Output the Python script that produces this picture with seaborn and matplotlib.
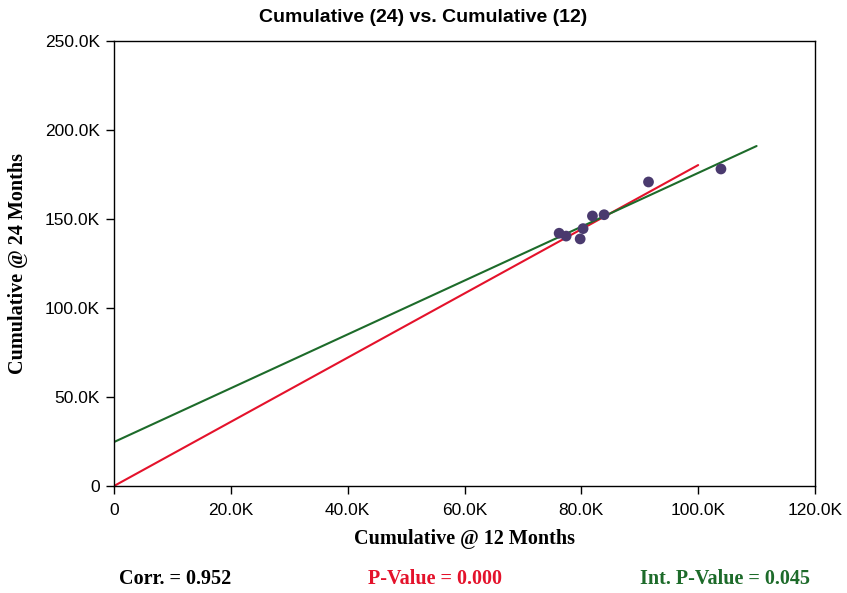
import matplotlib
matplotlib.use("Agg")
import matplotlib.pyplot as plt
import seaborn as sns
import pandas as pd
from matplotlib.ticker import FuncFormatter

cum12 = [76.2, 77.4, 79.8, 80.3, 81.9, 83.9, 91.5, 103.9]
cum24 = [142.0, 140.4, 138.8, 144.6, 151.7, 152.4, 170.8, 178.1]
red_x = [0, 100]
red_y = [0, 180.3]
green_x = [0, 110]
green_y = [24.7, 191.0]
xticks = [0, 20, 40, 60, 80, 100, 120]
yticks = [0, 50, 100, 150, 200, 250]
stats = ["Corr. = 0.952", "P-Value = 0.000", "Int. P-Value = 0.045"]

sns.set_style("white", {"xtick.bottom": True, "ytick.left": True,
                        "text.color": "black", "axes.labelcolor": "black"})
plt.rcParams['font.family'] = ['Liberation Sans', 'DejaVu Sans']

df = pd.DataFrame({"x": cum12, "y": cum24})
fig = plt.figure(figsize=(8.47, 5.93), dpi=100)
ax = fig.add_axes([114/847, 1-486/593, (815-114)/847, (486-41)/593])

sns.lineplot(x=red_x, y=red_y, ax=ax, color="#E4122B", linewidth=1.5)
sns.lineplot(x=green_x, y=green_y, ax=ax, color="#1D6B2A", linewidth=1.5)
sns.scatterplot(data=df, x="x", y="y", ax=ax, color="#4A3A6E", s=60, edgecolor="none", zorder=5)

ax.set_xlim(0, 120)
ax.set_ylim(0, 250)
ax.set_xticks(xticks)
ax.set_yticks(yticks)
fmt = FuncFormatter(lambda v, p: "0" if v == 0 else f"{v:.1f}K")
ax.xaxis.set_major_formatter(fmt)
ax.yaxis.set_major_formatter(fmt)
ax.tick_params(axis='both', direction='out', length=6, width=1, labelsize=12.5,
               colors='black', bottom=True, left=True)
ax.tick_params(axis='x', pad=6)
ax.tick_params(axis='y', pad=4)
for s in ax.spines.values():
    s.set_color('black')
    s.set_linewidth(1)

ax.set_xlabel("Cumulative @ 12 Months", fontfamily="Liberation Serif", fontweight="bold",
              fontsize=14.5, labelpad=8, color="black")
ax.set_ylabel("Cumulative @ 24 Months", fontfamily="Liberation Serif", fontweight="bold",
              fontsize=14.5, labelpad=12, color="black")
fig.text(0.5, 1-18/593, "Cumulative (24) vs. Cumulative (12)", ha="center", va="center",
         fontsize=14, fontweight="bold", color="black")

colors = ["black", "#E4122B", "#1D6B2A"]
xs = [175/847, 435/847, 725/847]
for t, c, xp in zip(stats, colors, xs):
    fig.text(xp, 1-579/593, t, ha="center", va="center", color=c,
             fontfamily="Liberation Serif", fontweight="bold", fontsize=14.5)

fig.savefig("out.png", dpi=100)
